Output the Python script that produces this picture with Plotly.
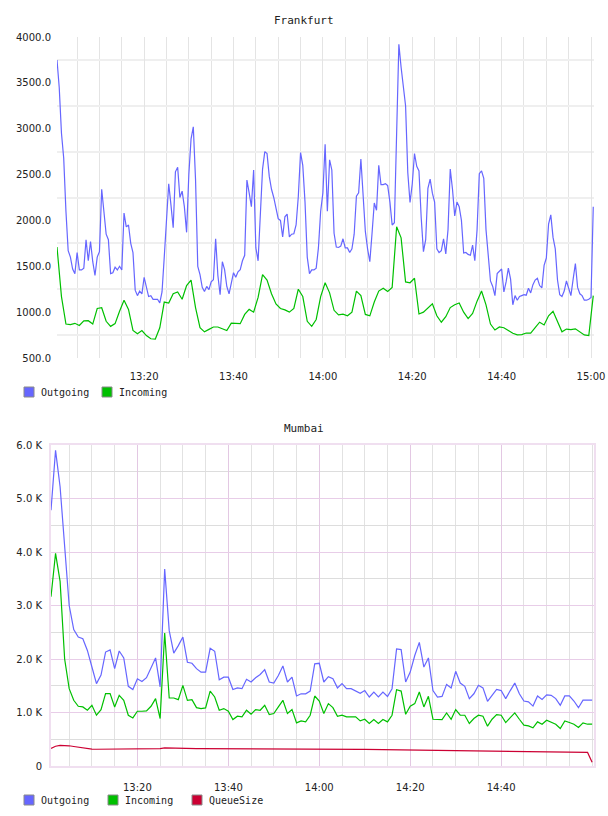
import pandas as pd
import plotly.graph_objects as go

# --- data (values per sample) ---
DAY = "2024-01-01"

# Frankfurt: outgoing sampled every 30 s, incoming every minute
FRA_OUT_START = DAY + " 13:00:30"
FRA_IN_START = DAY + " 13:00:30"
FRA_OUTGOING = [
    3750, 3450, 2950, 2680, 2100, 1670, 1600, 1470, 1420, 1650,
    1460, 1460, 1480, 1790, 1560, 1770, 1550, 1400, 1600, 1660,
    2340, 2080, 1850, 1790, 1420, 1430, 1490, 1460, 1500, 1460,
    2080, 1930, 1950, 1750, 1650, 1240, 1180, 1230, 1200, 1380,
    1260, 1170, 1180, 1140, 1140, 1140, 1100, 1220, 1600, 2000,
    2400, 2170, 1920, 2530, 2580, 2250, 2320, 2150, 1870, 2500,
    2890, 3020, 2450, 1500, 1410, 1270, 1226, 1280, 1245, 1330,
    1353, 1800, 1400, 1190, 1550, 1463, 1280, 1200, 1310, 1430,
    1380, 1440, 1463, 1560, 1620, 2440, 2300, 2150, 2550, 1700,
    1560, 2060, 2560, 2750, 2730, 2480, 2340, 2250, 2140, 2020,
    2000, 1820, 2040, 2070, 1820, 1850, 1855, 1950, 2260, 2740,
    2600, 2200, 1600, 1420, 1460, 1460, 1480, 1700, 2100, 2300,
    2830, 2100, 2660, 2550, 1860, 1710, 1705, 1720, 1800, 1700,
    1700, 1650, 1690, 1850, 2265, 2300, 2670, 2200, 1880, 1690,
    1550, 1860, 2190, 2110, 2600, 2390, 2390, 2400, 2380, 2200,
    1950, 1975, 2850, 3920, 3670, 3460, 3250, 2520, 2195, 2400,
    2730, 2590, 2540, 2030, 1660, 1790, 2350, 2450, 2297, 2200,
    1690, 1650, 1670, 1800, 1635, 1900, 2560, 2340, 2050, 2200,
    2150, 2000, 1644, 1651, 1630, 1620, 1730, 1560, 1900, 2510,
    2540, 2460, 1900, 1620, 1340, 1280, 1180, 1420, 1450, 1470,
    1220, 1330, 1480, 1360, 1080, 1180, 1130, 1170, 1180, 1190,
    1185, 1260, 1210, 1300, 1350, 1370, 1290, 1265, 1510, 1590,
    1960, 2060, 1815, 1690, 1350, 1190, 1170, 1230, 1340, 1260,
    1180, 1360, 1530, 1270, 1200, 1180, 1130, 1130, 1140, 1160,
    2150,
]
FRA_INCOMING = [
    1710, 1170, 870, 865, 878, 855, 905, 907, 870, 1040,
    1048, 900, 845, 875, 1010, 1130, 1030, 800, 765, 800,
    745, 710, 707, 830, 1110, 1100, 1200, 1220, 1140, 1290,
    1350, 1050, 830, 785, 812, 838, 838, 820, 800, 880,
    877, 874, 975, 1030, 1000, 1160, 1410, 1350, 1200, 1090,
    1040, 1025, 1000, 1040, 1250, 1170, 900, 845, 920, 1170,
    1320, 1210, 1020, 970, 978, 960, 1000, 1230, 1180, 975,
    960, 1110, 1230, 1260, 1225, 1270, 1930, 1810, 1330, 1320,
    1370, 980, 1000, 1050, 1090, 960, 890, 950, 1050, 1080,
    1100, 1000, 930, 985, 1120, 1230, 1080, 870, 805, 838,
    830, 800, 770, 752, 755, 772, 772, 830, 890, 860,
    960, 1010, 900, 785, 815, 810, 818, 785, 752, 745,
    1180,
]
FRA_YTICKS = [500, 1000, 1500, 2000, 2500, 3000, 3500, 4000]
FRA_SERIES = ["Outgoing", "Incoming"]

# Mumbai: all series sampled every minute
MUM_START = DAY + " 13:01:00"
MUM_OUTGOING = [
    4780, 5900, 5220, 4100, 3000, 2550, 2410, 2380, 2160, 1850,
    1540, 1700, 2130, 2170, 1820, 2150, 2020, 1490, 1430, 1630,
    1580, 1650, 1850, 2020, 1480, 3680, 2530, 2110, 2250, 2410,
    1940, 1920, 1820, 1755, 1755, 2200, 2145, 1610, 1660, 1660,
    1430, 1460, 1445, 1620, 1570, 1650, 1710, 1800, 1570, 1550,
    1690, 1870, 1570, 1660, 1310, 1350, 1350, 1400, 1910, 1920,
    1570, 1670, 1630, 1460, 1540, 1445, 1445, 1410, 1360, 1410,
    1290, 1380, 1290, 1380, 1300, 1445, 2190, 2175, 1570, 1755,
    2065, 2310, 1850, 2020, 1410, 1290, 1300, 1525, 1460, 1770,
    1550, 1490, 1260, 1350, 1510, 1460, 1210, 1320, 1430, 1410,
    1260, 1410, 1550, 1350, 1215, 1200, 1120, 1310, 1245, 1330,
    1320, 1260, 1135, 1310, 1310, 1215, 1090, 1230, 1230, 1230,
]
MUM_INCOMING = [
    3165, 3975, 3450, 2000, 1445, 1228, 1116, 1104, 1042, 1135,
    949, 1054, 1352, 1352, 1104, 1321, 1228, 949, 899, 1023,
    1023, 1029, 1116, 1259, 887, 2486, 1271, 1271, 1240, 1507,
    1228, 1240, 1091, 1073, 1085, 1401, 1290, 1042, 1073, 1023,
    868, 930, 918, 1042, 967, 1054, 1042, 1135, 961, 980,
    1104, 1228, 980, 1054, 806, 843, 825, 949, 1308, 1215,
    980, 1166, 1091, 930, 949, 918, 918, 918, 843, 874,
    794, 868, 794, 868, 825, 949, 1426, 1401, 967, 1116,
    1166, 1383, 1104, 1302, 874, 868, 868, 992, 874, 1054,
    949, 949, 794, 887, 949, 930, 744, 874, 961, 949,
    812, 905, 992, 874, 763, 750, 713, 825, 781, 856,
    825, 781, 701, 843, 812, 781, 719, 806, 781, 781,
]
MUM_QUEUE = [
    330, 370, 385, 385, 378, 365, 352, 338, 322, 315,
    313, 313, 314, 314, 315, 315, 316, 316, 316, 317,
    318, 318, 320, 322, 326, 338, 335, 328, 325, 324,
    324, 324, 324, 325, 325, 325, 325, 325, 325, 325,
    325, 325, 325, 326, 326, 326, 326, 325, 325, 325,
    325, 324, 324, 323, 323, 322, 322, 321, 320, 320,
    319, 318, 317, 317, 316, 315, 314, 313, 312, 311,
    310, 309, 308, 307, 306, 305, 304, 303, 302, 301,
    300, 299, 298, 296, 294, 292, 290, 289, 288, 287,
    286, 285, 284, 282, 281, 280, 279, 278, 277, 276,
    274, 273, 272, 270, 269, 268, 267, 266, 265, 264,
    263, 262, 261, 260, 259, 258, 257, 256, 254, 70,
]
MUM_YTICKS = [0, 1000, 2000, 3000, 4000, 5000, 6000]
MUM_YLABELS = ["0", "1.0 K", "2.0 K", "3.0 K", "4.0 K", "5.0 K", "6.0 K"]
MUM_XTICKS = ["13:20", "13:40", "14:00", "14:20", "14:40"]
MUM_SERIES = ["Outgoing", "Incoming", "QueueSize"]

COLORS = {"Outgoing": "#6666ff", "Incoming": "#00c000", "QueueSize": "#cc0033"}
TICK_FONT = dict(family="DejaVu Sans", size=10, color="#222222")
MONO = "DejaVu Sans Mono"
W, H = 608, 816

fra_out_t = pd.date_range(FRA_OUT_START, periods=len(FRA_OUTGOING), freq="30s")
fra_in_t = pd.date_range(FRA_IN_START, periods=len(FRA_INCOMING), freq="60s")
mum_t = pd.date_range(MUM_START, periods=len(MUM_OUTGOING), freq="60s")

fig = go.Figure()


def add_line(x, y, name, xa, ya):
    fig.add_trace(go.Scatter(x=x, y=y, mode="lines", name=name, showlegend=False,
                             line=dict(color=COLORS[name], width=1.2),
                             xaxis=xa, yaxis=ya))


add_line(fra_out_t, FRA_OUTGOING, "Outgoing", "x", "y")
add_line(fra_in_t, FRA_INCOMING, "Incoming", "x", "y")
add_line(mum_t, MUM_OUTGOING, "Outgoing", "x2", "y2")
add_line(mum_t, MUM_INCOMING, "Incoming", "x2", "y2")
add_line(mum_t, MUM_QUEUE, "QueueSize", "x2", "y2")


# small boxed legends under each chart (pixel layout of the original)
def px_x(p):
    return p / W


def px_y(p):
    return 1 - p / H


shapes, annotations = [], []


def add_legend(names, row_y, pitch):
    for i, name in enumerate(names):
        left = 24 + pitch * i
        shapes.append(dict(type="rect", xref="paper", yref="paper",
                           x0=px_x(left), x1=px_x(left + 10),
                           y0=px_y(row_y + 5), y1=px_y(row_y - 5),
                           fillcolor=COLORS[name], line=dict(color="#8a8a8a", width=1)))
        annotations.append(dict(text=name, x=px_x(left + 15), y=px_y(row_y),
                                xref="paper", yref="paper", xanchor="left", yanchor="middle",
                                showarrow=False, font=dict(family=MONO, size=10, color="#222222")))


add_legend(FRA_SERIES, 392, 78)
add_legend(MUM_SERIES, 800, 84)

for title, ty in [("Frankfurt", 20), ("Mumbai", 428)]:
    annotations.append(dict(text=title, x=0.5, y=px_y(ty), xref="paper", yref="paper",
                            xanchor="center", yanchor="middle", showarrow=False,
                            font=dict(family=MONO, size=11, color="#222222")))

fig.update_layout(
    width=W, height=H,
    margin=dict(l=0, r=0, t=0, b=0),
    paper_bgcolor="white", plot_bgcolor="white",
    showlegend=False,
    xaxis=dict(
        domain=[px_x(57), px_x(594)], type="date", automargin=False,
        range=[DAY + " 13:00:30", DAY + " 15:00:40"],
        dtick=1200000, tickformat="%H:%M", tickfont=TICK_FONT,
        showgrid=True, gridcolor="#e4e4e4", gridwidth=1,
        minor=dict(dtick=300000, showgrid=True, gridcolor="#e4e4e4", gridwidth=1),
        showline=False, zeroline=False, ticks="", ticklabelstandoff=11,
    ),
    yaxis=dict(
        domain=[px_y(358), px_y(37)], range=[500, 4000], automargin=False,
        tickvals=FRA_YTICKS, ticktext=["%.1f" % v for v in FRA_YTICKS],
        tickfont=TICK_FONT, showgrid=False, zeroline=False, showline=False,
        minor=dict(tick0=250, dtick=500, showgrid=True, gridcolor="#efefef", gridwidth=2),
        ticks="", ticklabelstandoff=5,
    ),
    xaxis2=dict(
        domain=[px_x(51), px_x(594)], type="date", anchor="y2", automargin=False,
        range=[DAY + " 13:01:00", DAY + " 15:00:25"],
        tickvals=[DAY + " " + s for s in MUM_XTICKS], ticktext=MUM_XTICKS,
        tickfont=TICK_FONT,
        showgrid=True, gridcolor="#e3c8e3", gridwidth=1,
        minor=dict(dtick=300000, showgrid=True, gridcolor="#e2e2e2", gridwidth=1),
        showline=True, mirror=True, linecolor="#f0dff0", linewidth=2,
        zeroline=False, ticks="", ticklabelstandoff=11,
    ),
    yaxis2=dict(
        domain=[px_y(766), px_y(445)], range=[0, 6000], anchor="x2", automargin=False,
        tickvals=MUM_YTICKS, ticktext=MUM_YLABELS, tickfont=TICK_FONT,
        showgrid=True, gridcolor="#e8cde8", gridwidth=1,
        minor=dict(dtick=500, showgrid=True, gridcolor="#dddddd", gridwidth=1),
        showline=True, mirror=True, linecolor="#f0dff0", linewidth=2,
        zeroline=False, ticks="", ticklabelstandoff=5,
    ),
    shapes=shapes,
    annotations=annotations,
)

# the page body margin would shift the figure by 8 px
fig.write_html("out.html", config={"displayModeBar": False},
               post_script="document.body.style.margin='0';")
